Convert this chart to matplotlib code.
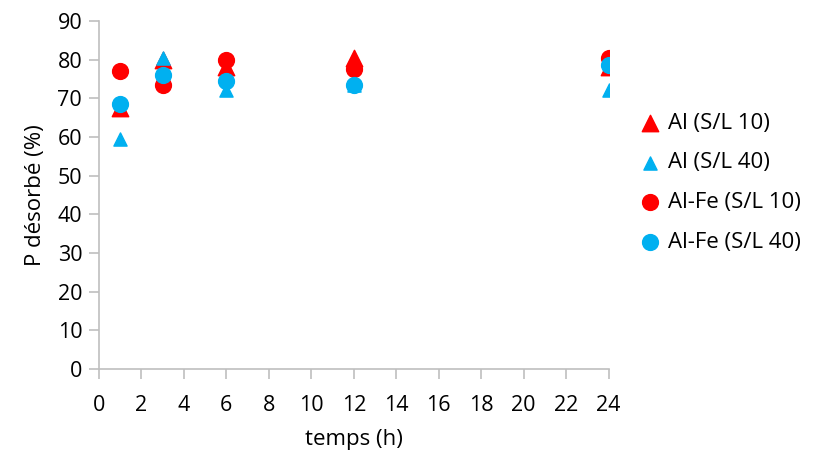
import matplotlib.pyplot as plt

plt.rcParams["font.family"] = ["Open Sans", "DejaVu Sans"]

temps = [1, 3, 6, 12, 24]
al_sl10 = [67.5, 80, 78, 80.5, 78]
al_sl40 = [59.5, 80.5, 72, 73.5, 72]
alfe_sl10 = [77, 73.5, 80, 77.5, 80.5]
alfe_sl40 = [68.5, 76, 74.5, 73.5, 78.5]

red = "#FF0000"
blue = "#00B0F0"

fig = plt.figure(figsize=(8.17, 4.63), dpi=100)
ax = fig.add_axes([0.121, 0.203, 0.624, 0.752])

ax.scatter(temps, al_sl10, marker="^", s=140, color=red, label="Al (S/L 10)", zorder=3)
ax.scatter(temps, al_sl40, marker="^", s=90, color=blue, label="Al (S/L 40)", zorder=3)
ax.scatter(temps, alfe_sl10, marker="o", s=130, color=red, label="Al-Fe (S/L 10)", zorder=3)
ax.scatter(temps, alfe_sl40, marker="o", s=130, color=blue, label="Al-Fe (S/L 40)", zorder=3)

ax.set_xlim(0, 24)
ax.set_ylim(0, 90)
ax.set_xticks(range(0, 25, 2))
ax.set_yticks(range(0, 91, 10))
ax.set_xlabel("temps (h)", fontsize=16, labelpad=9)
ax.set_ylabel("P désorbé (%)", fontsize=16, labelpad=8)
ax.tick_params(labelsize=15.5, color="#BFBFBF", length=7, width=1.2, direction="out", pad=5)
ax.tick_params(axis="x", pad=12)
for s in ["top", "right"]:
    ax.spines[s].set_visible(False)
for s in ["left", "bottom"]:
    ax.spines[s].set_color("#BFBFBF")
    ax.spines[s].set_linewidth(1.2)

fig.legend(loc="center left", bbox_to_anchor=(0.782, 0.605), frameon=False, fontsize=16,
           handlelength=1.0, handletextpad=0.3, labelspacing=0.85, borderpad=0, borderaxespad=0)

fig.savefig("out.png", dpi=100)
